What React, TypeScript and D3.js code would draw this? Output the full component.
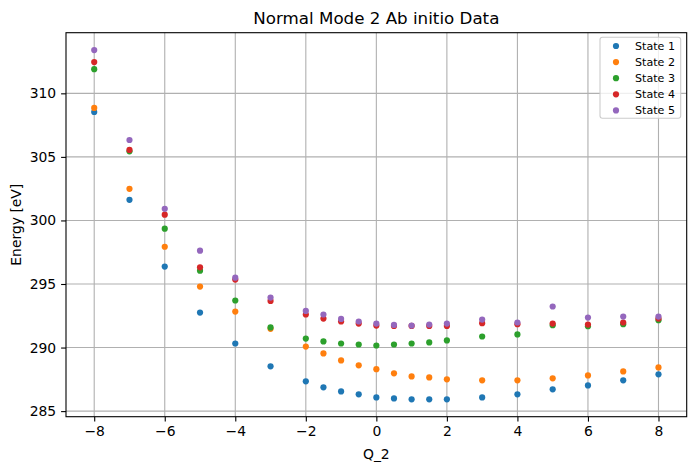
import React from 'react';
import * as d3 from 'd3';

const qValues = [-8, -7, -6, -5, -4, -3, -2, -1.5, -1, -0.5, 0, 0.5, 1, 1.5, 2, 3, 4, 5, 6, 7, 8];

const state1 = [308.53, 301.62, 296.37, 292.75, 290.32, 288.52, 287.34, 286.87, 286.55, 286.32, 286.08, 286.0, 285.93, 285.93, 285.93, 286.08, 286.32, 286.71, 287.02, 287.42, 287.89];
const state2 = [308.85, 302.49, 297.93, 294.8, 292.83, 291.47, 290.08, 289.54, 288.99, 288.6, 288.3, 287.97, 287.73, 287.65, 287.5, 287.42, 287.42, 287.58, 287.81, 288.12, 288.44];
const state3 = [311.9, 305.44, 299.35, 296.05, 293.7, 291.58, 290.71, 290.48, 290.32, 290.24, 290.16, 290.24, 290.32, 290.4, 290.56, 290.87, 291.03, 291.76, 291.68, 291.84, 292.15];
const state4 = [312.46, 305.55, 300.45, 296.31, 295.35, 293.67, 292.6, 292.28, 292.05, 291.89, 291.73, 291.7, 291.7, 291.7, 291.7, 291.92, 291.84, 291.89, 291.81, 291.97, 292.28];
const state5 = [313.4, 306.33, 300.92, 297.62, 295.5, 293.93, 292.88, 292.6, 292.25, 292.05, 291.89, 291.78, 291.73, 291.81, 291.89, 292.2, 291.97, 293.23, 292.36, 292.44, 292.44];

const seriesNames = ['State 1', 'State 2', 'State 3', 'State 4', 'State 5'];
const seriesValues = [state1, state2, state3, state4, state5];
const colors = ['#1f77b4', '#ff7f0e', '#2ca02c', '#d62728', '#9467bd'];

const xTicks = [-8, -6, -4, -2, 0, 2, 4, 6, 8];
const yTicks = [285, 290, 295, 300, 305, 310];

const W = 695;
const H = 470;

const App: React.FC = () => {
  const svgRef = React.useRef<SVGSVGElement>(null);

  React.useEffect(() => {
    if (!svgRef.current) return;
    const svg = d3.select(svgRef.current);
    svg.selectAll('*').remove();

    const margin = { top: 32.7, right: W - 686.7, bottom: H - 416.7, left: 66 };
    const x = d3.scaleLinear().domain([-8.8, 8.8]).range([margin.left, W - margin.right]);
    const y = d3.scaleLinear().domain([284.56, 314.77]).range([H - margin.bottom, margin.top]);
    const font = 'DejaVu Sans, sans-serif';
    const fmt = (v: number) => String(v).replace('-', '\u2212');

    svg.append('rect').attr('width', W).attr('height', H).attr('fill', '#fff');

    // grid
    const grid = svg.append('g').attr('stroke', '#b0b0b0').attr('stroke-width', 1.1);
    xTicks.forEach(t => {
      grid.append('line').attr('x1', x(t)).attr('x2', x(t)).attr('y1', y.range()[0]).attr('y2', y.range()[1]);
    });
    yTicks.forEach(t => {
      grid.append('line').attr('y1', y(t)).attr('y2', y(t)).attr('x1', x.range()[0]).attr('x2', x.range()[1]);
    });

    // points
    seriesValues.forEach((vals, si) => {
      svg.append('g').selectAll('circle')
        .data(vals)
        .join('circle')
        .attr('cx', (_, i) => x(qValues[i]))
        .attr('cy', d => y(d))
        .attr('r', 3.1)
        .attr('fill', colors[si]);
    });

    // axes
    const xAxis = svg.append('g')
      .attr('transform', `translate(0,${y.range()[0]})`)
      .call(d3.axisBottom(x).tickValues(xTicks).tickFormat(d => fmt(d as number)).tickSize(4.9).tickPadding(4.9));
    const yAxis = svg.append('g')
      .attr('transform', `translate(${x.range()[0]},0)`)
      .call(d3.axisLeft(y).tickValues(yTicks).tickFormat(d => fmt(d as number)).tickSize(4.9).tickPadding(4.9));
    [xAxis, yAxis].forEach(a => {
      a.select('.domain').remove();
      a.selectAll('line').attr('stroke', '#000').attr('stroke-width', 1.1);
      a.selectAll('text').attr('fill', '#000').style('font-family', font).style('font-size', '13.9px');
    });

    // frame
    svg.append('rect')
      .attr('x', x.range()[0]).attr('y', y.range()[1])
      .attr('width', x.range()[1] - x.range()[0])
      .attr('height', y.range()[0] - y.range()[1])
      .attr('fill', 'none').attr('stroke', '#000').attr('stroke-width', 1.1);

    // title and labels
    svg.append('text')
      .attr('x', (x.range()[0] + x.range()[1]) / 2).attr('y', 24)
      .attr('text-anchor', 'middle')
      .style('font-family', font).style('font-size', '16.7px')
      .text('Normal Mode 2 Ab initio Data');
    svg.append('text')
      .attr('x', (x.range()[0] + x.range()[1]) / 2).attr('y', 459)
      .attr('text-anchor', 'middle')
      .style('font-family', font).style('font-size', '13.9px')
      .text('Q_2');
    svg.append('text')
      .attr('transform', `translate(21,${(y.range()[0] + y.range()[1]) / 2}) rotate(-90)`)
      .attr('text-anchor', 'middle')
      .style('font-family', font).style('font-size', '13.9px')
      .text('Energy [eV]');

    // legend
    const lg = svg.append('g');
    lg.append('rect')
      .attr('x', 600).attr('y', 37.3).attr('width', 80.7).attr('height', 81)
      .attr('rx', 2.5)
      .attr('fill', '#fff').attr('fill-opacity', 0.8)
      .attr('stroke', '#cccccc').attr('stroke-width', 1.1);
    seriesNames.forEach((name, i) => {
      const cy = 46 + i * 16.1;
      lg.append('circle').attr('cx', 616).attr('cy', cy).attr('r', 3.1).attr('fill', colors[i]);
      lg.append('text')
        .attr('x', 635).attr('y', cy + 4)
        .style('font-family', font).style('font-size', '11.1px')
        .text(name);
    });
  }, []);

  return (
    <svg ref={svgRef} width={W} height={H} viewBox={`0 0 ${W} ${H}`}
      style={{ position: 'absolute', left: 0, top: 0, display: 'block' }} />
  );
};

export default App;
